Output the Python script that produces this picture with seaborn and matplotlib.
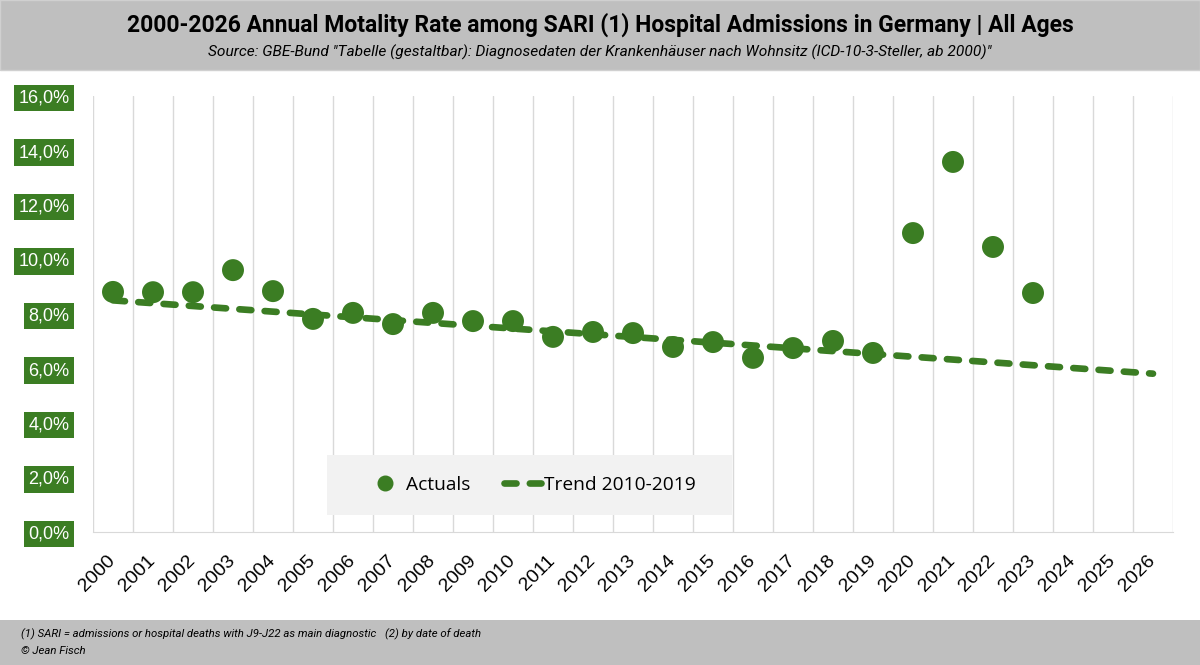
import matplotlib
matplotlib.use('Agg')
import matplotlib.pyplot as plt
from matplotlib.patches import Rectangle
from matplotlib.lines import Line2D
import pandas as pd
import seaborn as sns

# values (mortality rate in %)
years = list(range(2000, 2027))
actual_years = list(range(2000, 2024))
actual_rate = [8.81, 8.80, 8.80, 9.61, 8.84, 7.82, 8.04, 7.63, 8.04, 7.74,
               7.74, 7.16, 7.34, 7.30, 6.79, 6.97, 6.39, 6.75, 7.01, 6.57,
               10.97, 13.58, 10.46, 8.77]
trend_years = [2000, 2026]
trend_rate = [8.50, 5.81]
y_ticks = [0, 2, 4, 6, 8, 10, 12, 14, 16]

title = "2000-2026 Annual Motality Rate among SARI (1) Hospital Admissions in Germany | All Ages"
subtitle = 'Source: GBE-Bund "Tabelle (gestaltbar): Diagnosedaten der Krankenhäuser nach Wohnsitz (ICD-10-3-Steller, ab 2000)"'
foot1 = "(1) SARI = admissions or hospital deaths with J9-J22 as main diagnostic"
foot2 = "(2) by date of death"
foot3 = "© Jean Fisch"

green = '#3b7d23'
band = '#bfbfbf'
narrow = ['Roboto', 'DejaVu Sans']

actuals = pd.DataFrame({'year': actual_years, 'rate': actual_rate})
trend = pd.DataFrame({'year': trend_years, 'rate': trend_rate})

sns.set_style('white')
plt.rcParams['font.family'] = ['Liberation Sans', 'DejaVu Sans']
plt.rcParams['text.color'] = 'black'
plt.rcParams['xtick.color'] = 'black'

fig = plt.figure(figsize=(12, 6.65), dpi=100)
ax = fig.add_axes([93 / 1200, 1 - 532 / 665, 1080 / 1200, 436 / 665])

# grey header and footer bands
fig.patches.append(Rectangle((0, 1 - 70 / 665), 1, 70 / 665, transform=fig.transFigure,
                             facecolor=band, edgecolor='#d0d0d0', lw=1, zorder=0))
fig.patches.append(Rectangle((0, 0), 1, 45 / 665, transform=fig.transFigure,
                             facecolor=band, edgecolor='none', zorder=0))

fig.text(0.5, 1 - 25 / 665, title, ha='center', va='center', fontsize=16.5,
         fontweight='bold', family=narrow)
fig.text(0.5, 1 - 52 / 665, subtitle, ha='center', va='center', fontsize=11.15,
         style='italic', family=narrow)
fig.text(21 / 1200, 1 - 634 / 665, foot1, ha='left', va='center', fontsize=8.2,
         style='italic', family=narrow)
fig.text(385 / 1200, 1 - 634 / 665, foot2, ha='left', va='center', fontsize=8.2,
         style='italic', family=narrow)
fig.text(21 / 1200, 1 - 651 / 665, foot3, ha='left', va='center', fontsize=8.2,
         style='italic', family=narrow)

sns.scatterplot(data=actuals, x='year', y='rate', ax=ax, color=green, s=250,
                edgecolor='none', zorder=4, label='Actuals')
sns.lineplot(data=trend, x='year', y='rate', ax=ax, color=green, lw=4.8,
             zorder=5, label='Trend 2010-2019')
ax.lines[0].set_dashes((1.8, 2.0))
ax.lines[0].set_dash_capstyle('round')

ax.set_xlim(years[0] - 0.5, years[-1] + 0.5)
ax.set_ylim(y_ticks[0], y_ticks[-1])
ax.set_xticks(years)
ax.set_xticklabels([str(y) for y in years], rotation=45, ha='right', va='center',
                   rotation_mode='anchor', fontsize=14)
ax.set_xticks([y - 0.5 for y in years] + [years[-1] + 0.5], minor=True)
ax.set_yticks(y_ticks)
ax.set_yticklabels([f"{v:.1f}%".replace('.', ',') for v in y_ticks], fontsize=13,
                   color='white')
for lab in ax.get_yticklabels():
    lab.set_bbox(dict(facecolor=green, edgecolor='none', pad=3.2))
ax.tick_params(axis='both', which='both', length=0)
ax.tick_params(axis='y', pad=17)
ax.tick_params(axis='x', pad=19)
ax.set_axisbelow(True)
ax.xaxis.grid(True, which='minor', color='#d9d9d9', lw=1)
ax.xaxis.grid(False, which='major')
ax.yaxis.grid(False)
for side in ['top', 'left', 'right']:
    ax.spines[side].set_visible(False)
ax.spines['bottom'].set_color('#d9d9d9')
ax.set_xlabel('')
ax.set_ylabel('')

# legend box
ax.add_patch(Rectangle((234 / 1080, 17 / 436), 405 / 1080, 60 / 436,
                       transform=ax.transAxes, facecolor='#f2f2f2',
                       edgecolor='none', zorder=3))
handles = [Line2D([], [], marker='o', ls='none', color=green, markersize=10.5),
           Line2D([], [], color=green, lw=4.8, dashes=(1.8, 2.0),
                  dash_capstyle='round')]
ax.legend(handles=handles, labels=['Actuals', 'Trend 2010-2019'], ncol=2,
          loc='center', bbox_to_anchor=(438 / 1080, 47 / 436), frameon=False,
          handlelength=1.95, handletextpad=0.15, columnspacing=1.75,
          prop={'family': ['Open Sans', 'DejaVu Sans'], 'size': 13.8})

fig.savefig('out.png', dpi=100)
